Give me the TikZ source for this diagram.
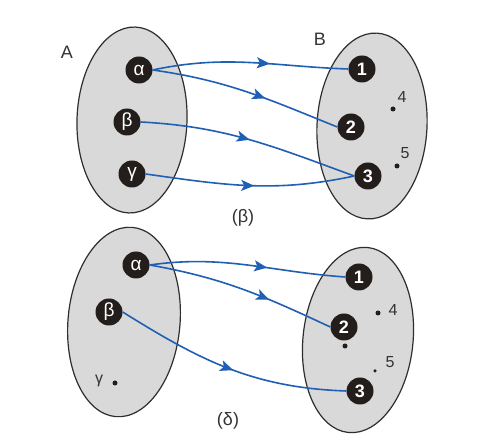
\documentclass[tikz,border=0pt]{standalone}
\usepackage{fontspec}
\setmainfont{Liberation Sans}
\usetikzlibrary{decorations.markings,arrows.meta}
\definecolor{setfill}{HTML}{D9D9D9}
\definecolor{setline}{HTML}{2E2E2E}
\definecolor{dotfill}{HTML}{231E1B}
\definecolor{arrowblue}{HTML}{1F5FB4}
\definecolor{labelgray}{HTML}{333333}
\tikzset{
  setellipse/.style={draw=setline, fill=setfill, line width=1.2pt},
  elem/.style={circle, fill=dotfill, text=white, minimum size=27pt, inner sep=0pt, font=\fontsize{18}{18}\selectfont\bfseries},
  gelem/.style={circle, fill=dotfill, text=white, minimum size=27pt, inner sep=0pt, font=\fontsize{19}{19}\selectfont},
  pt/.style={circle, fill=dotfill, minimum size=5pt, inner sep=0pt},
  lbl/.style={text=labelgray, font=\fontsize{18}{18}\selectfont},
  smalllbl/.style={text=labelgray, font=\fontsize{16}{16}\selectfont},
  maparrow/.style={draw=arrowblue, line width=1.6pt, postaction={decorate},
    decoration={markings, mark=at position #1 with {\arrow[arrowblue]{Stealth[length=13pt,width=11pt,inset=3pt]}}}},
}
\begin{document}
\begin{tikzpicture}[x=1pt,y=-1pt]
\useasboundingbox (0,0) rectangle (491,446);
\fill[white] (0,0) rectangle (491,446);

% ---------- top diagram (beta) ----------
\draw[setellipse, rotate around={-2:(132,120)}] (132,120) ellipse [x radius=55, y radius=93];
\draw[setellipse, rotate around={-3:(372,126)}] (372,126) ellipse [x radius=55, y radius=93];
\node[lbl] (tA) at (67,52) {A};
\node[lbl] (tB) at (320,39) {B};
\node[gelem] (ta) at (139,70) {α};
\node[gelem] (tb) at (127,122) {β};
\node[gelem] (tg) at (132,174) {γ};
\node[elem] (t1) at (362,69) {1};
\node[elem] (t2) at (351,127) {2};
\node[elem] (t3) at (368,176) {3};
\node[pt] (t4) at (393,109) {};
\node[smalllbl] (t4l) at (402,97) {4};
\node[pt] (t5) at (397,166) {};
\node[smalllbl] (t5l) at (405,153) {5};
\node[lbl] (tcap) at (243,218) {(β)};

\draw[maparrow=0.6] (ta.east) to[out=12,in=178] (t1.west);
\draw[maparrow=0.6] (ta.east) to[out=-8,in=158] (t2.west);
\draw[maparrow=0.5] (tb.east) to[out=-3,in=160] (t3.west);
\draw[maparrow=0.52] (tg.east) to[out=-8,in=192] (t3.west);

% ---------- bottom diagram (delta) ----------
\draw[setellipse, rotate around={-5:(124,322)}] (124,322) ellipse [x radius=56, y radius=95];
\draw[setellipse, rotate around={-6:(358,340)}] (358,340) ellipse [x radius=55, y radius=93];
\node[gelem] (ba) at (136,265) {α};
\node[gelem] (bb) at (109,312) {β};
\node[pt] (bg) at (115,383) {};
\node[smalllbl] (bgl) at (99,381) {γ};
\node[elem] (b1) at (359,277) {1};
\node[elem] (b2) at (344,327) {2};
\node[elem] (b3) at (360,391) {3};
\node[pt] (bx) at (345,346) {};
\node[pt] (b4) at (378,313) {};
\node[smalllbl] (b4l) at (393,310) {4};
\node[pt, minimum size=3.5pt] (b5) at (375,371) {};
\node[smalllbl] (b5l) at (390,362) {5};
\node[lbl] (bcap) at (228,421) {(δ)};

\draw[maparrow=0.6] (ba.east) to[out=8,in=176] (b1.west);
\draw[maparrow=0.65] (ba.east) to[out=-10,in=155] (b2.west);
\draw[maparrow=0.52] (bb.east) to[out=-32,in=178] (b3.west);
\end{tikzpicture}
\end{document}
